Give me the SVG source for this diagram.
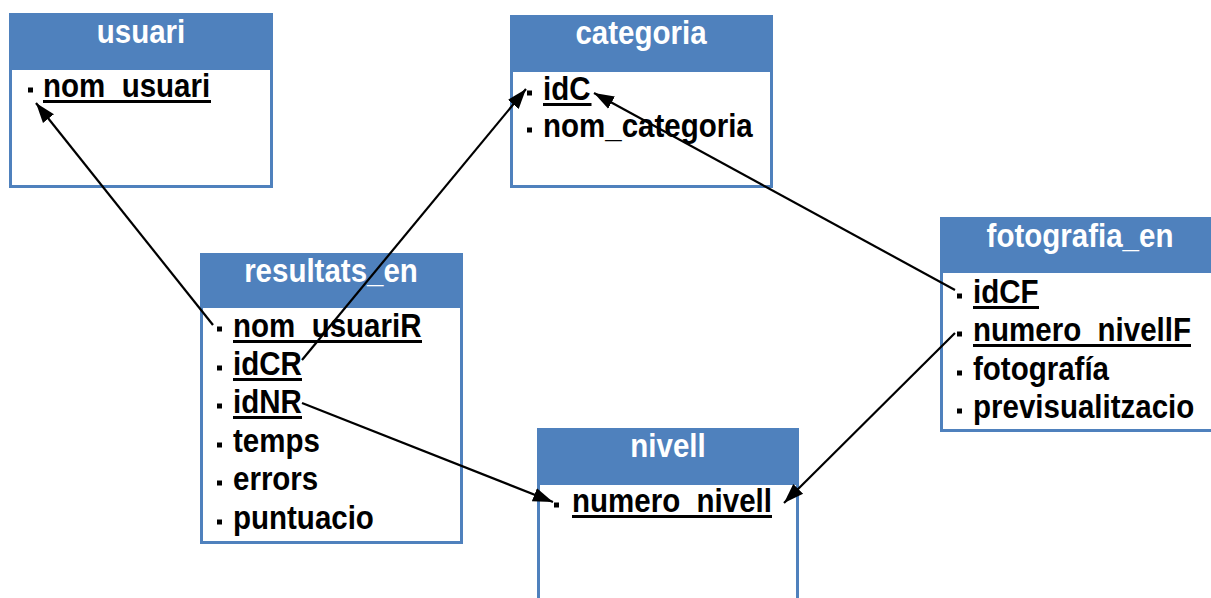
<svg xmlns="http://www.w3.org/2000/svg" width="1211" height="598" viewBox="0 0 1211 598">
  <style>
    .frame { fill: #ffffff; stroke: #4F81BD; stroke-width: 3; }
    .head { fill: #4F81BD; }
    .title { font-family: "Liberation Sans", Arial, sans-serif; font-weight: bold; font-size: 29.5px; fill: #ffffff; text-anchor: middle; }
    .field { font-family: "Liberation Sans", Arial, sans-serif; font-weight: bold; font-size: 29.5px; fill: #000000; }
    .dot { fill: #000000; }
    .key { fill: #000000; }
    .link { stroke: #000000; stroke-width: 2.2; fill: none; marker-end: url(#arrow); }
  </style>
  <defs>
    <marker id="arrow" markerUnits="userSpaceOnUse" markerWidth="22" markerHeight="18" viewBox="0 0 22 18" refX="20" refY="9" orient="auto">
      <path d="M0,2 L20,9 L0,16 Z" fill="#000000"/>
    </marker>
  </defs>
  <rect width="1211" height="598" fill="#ffffff"/>

  <!-- usuari -->
  <g id="usuari">
    <rect class="frame" x="10.5" y="14.5" width="261" height="172"/>
    <rect class="head" x="9" y="13" width="264" height="57"/>
    <text class="title" transform="translate(141,43) scale(1,1.1)">usuari</text>
    <rect class="dot" x="28" y="87.5" width="5" height="5"/>
    <text class="field" transform="translate(43,97) scale(1,1.1)">nom_usuari</text>
    <rect class="key" x="43" y="100" width="168" height="3"/>
  </g>

  <!-- categoria -->
  <g id="categoria">
    <rect class="frame" x="511.5" y="16.5" width="260" height="170"/>
    <rect class="head" x="510" y="15" width="263" height="57"/>
    <text class="title" transform="translate(641,44) scale(1,1.1)">categoria</text>
    <rect class="dot" x="527" y="90.5" width="5" height="5"/>
    <text class="field" transform="translate(543,100) scale(1,1.1)">idC</text>
    <rect class="key" x="543" y="103" width="48.5" height="3"/>
    <rect class="dot" x="527" y="127.5" width="5" height="5"/>
    <text class="field" transform="translate(543,137) scale(1,1.1)">nom_categoria</text>
  </g>

  <!-- resultats_en -->
  <g id="resultats_en">
    <rect class="frame" x="201.5" y="254.5" width="260" height="288"/>
    <rect class="head" x="200" y="253" width="263" height="55"/>
    <text class="title" transform="translate(331,282) scale(1,1.1)">resultats_en</text>
    <rect class="dot" x="217" y="326.5" width="5" height="5"/>
    <text class="field" transform="translate(233,337) scale(1,1.1)">nom_usuariR</text>
    <rect class="key" x="233" y="340" width="189" height="3"/>
    <rect class="dot" x="217" y="365.5" width="5" height="5"/>
    <text class="field" transform="translate(233,375) scale(1,1.1)">idCR</text>
    <rect class="key" x="233" y="378" width="69" height="3"/>
    <rect class="dot" x="217" y="403.5" width="5" height="5"/>
    <text class="field" transform="translate(233,413) scale(1,1.1)">idNR</text>
    <rect class="key" x="233" y="416" width="69" height="3"/>
    <rect class="dot" x="217" y="442.5" width="5" height="5"/>
    <text class="field" transform="translate(233,452) scale(1,1.1)">temps</text>
    <rect class="dot" x="217" y="480.5" width="5" height="5"/>
    <text class="field" transform="translate(233,490) scale(1,1.1)">errors</text>
    <rect class="dot" x="217" y="519.5" width="5" height="5"/>
    <text class="field" transform="translate(233,529) scale(1,1.1)">puntuacio</text>
  </g>

  <!-- fotografia_en -->
  <g id="fotografia_en">
    <rect class="frame" x="941.5" y="218.5" width="275" height="212"/>
    <rect class="head" x="940" y="217" width="275" height="56"/>
    <text class="title" transform="translate(1080,247) scale(1,1.1)">fotografia_en</text>
    <rect class="dot" x="957" y="293.5" width="5" height="5"/>
    <text class="field" transform="translate(973,303) scale(1,1.1)">idCF</text>
    <rect class="key" x="973" y="306" width="66" height="3"/>
    <rect class="dot" x="957" y="331.5" width="5" height="5"/>
    <text class="field" transform="translate(973,341) scale(1,1.1)">numero_nivellF</text>
    <rect class="key" x="973" y="344" width="218" height="3"/>
    <rect class="dot" x="957" y="370.5" width="5" height="5"/>
    <text class="field" transform="translate(973,380) scale(1,1.1)">fotografía</text>
    <rect class="dot" x="957" y="408.5" width="5" height="5"/>
    <text class="field" transform="translate(973,418) scale(1,1.1)">previsualitzacio</text>
  </g>

  <!-- nivell -->
  <g id="nivell">
    <rect class="frame" x="538.5" y="429.5" width="259" height="180"/>
    <rect class="head" x="537" y="428" width="262" height="57"/>
    <text class="title" transform="translate(668,457) scale(1,1.1)">nivell</text>
    <rect class="dot" x="554" y="502.5" width="5" height="5"/>
    <text class="field" transform="translate(572,512) scale(1,1.1)">numero_nivell</text>
    <rect class="key" x="572" y="515" width="200" height="3"/>
  </g>

  <!-- foreign key links -->
  <g id="connectors">
    <line class="link" x1="213" y1="325" x2="36" y2="103"/>
    <line class="link" x1="302" y1="360" x2="526" y2="89"/>
    <line class="link" x1="955" y1="290" x2="594" y2="93"/>
    <line class="link" x1="302" y1="403" x2="553" y2="502"/>
    <line class="link" x1="955" y1="333" x2="784" y2="503"/>
  </g>
</svg>
